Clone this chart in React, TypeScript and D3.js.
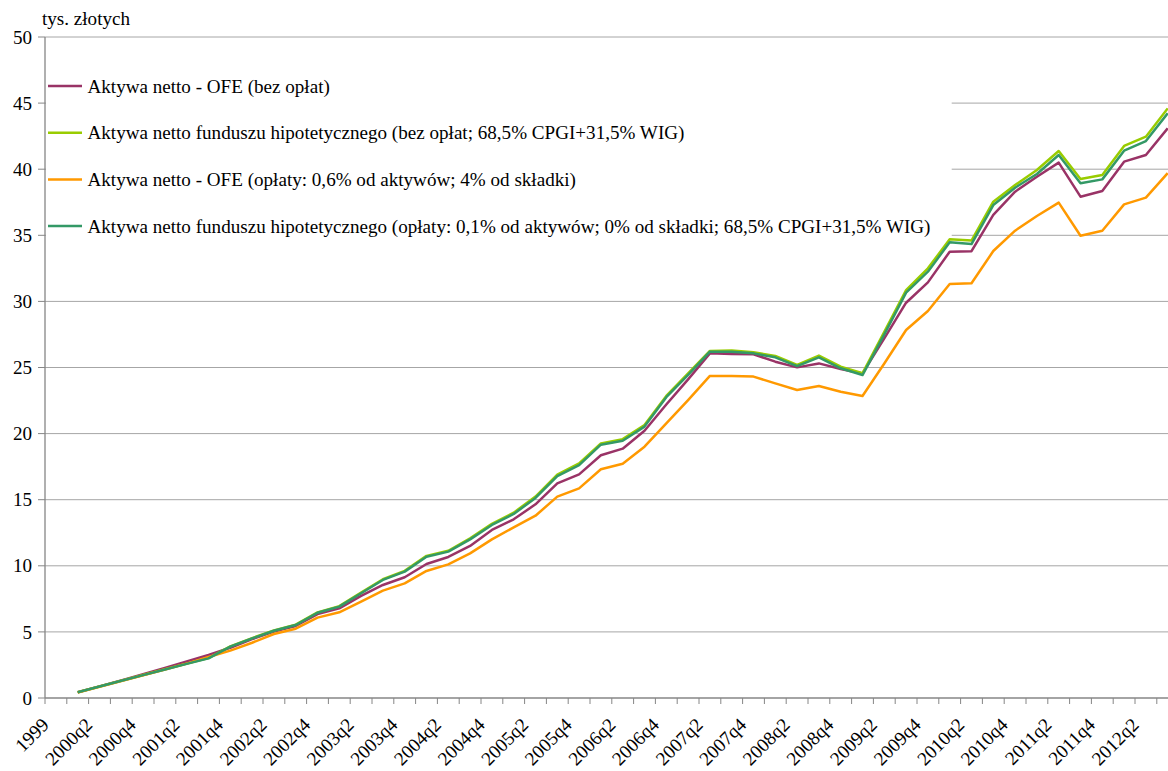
import React from "react";
import * as d3 from "d3";

const categories: string[] = [
  "1999",
  "2000q1", "2000q2", "2000q3", "2000q4",
  "2001q1", "2001q2", "2001q3", "2001q4",
  "2002q1", "2002q2", "2002q3", "2002q4",
  "2003q1", "2003q2", "2003q3", "2003q4",
  "2004q1", "2004q2", "2004q3", "2004q4",
  "2005q1", "2005q2", "2005q3", "2005q4",
  "2006q1", "2006q2", "2006q3", "2006q4",
  "2007q1", "2007q2", "2007q3", "2007q4",
  "2008q1", "2008q2", "2008q3", "2008q4",
  "2009q1", "2009q2", "2009q3", "2009q4",
  "2010q1", "2010q2", "2010q3", "2010q4",
  "2011q1", "2011q2", "2011q3", "2011q4",
  "2012q1", "2012q2", "2012q3",
];

const ofeNoFees: (number | null)[] = [
  null,
  0.43, 0.88, 1.33, 1.8,
  2.28, 2.76, 3.25, 3.8,
  4.45, 5.02, 5.45, 6.35,
  6.78, 7.72, 8.55, 9.13,
  10.14, 10.67, 11.5, 12.71,
  13.52, 14.65, 16.24, 16.92,
  18.36, 18.86, 20.22, 22.2,
  24.1, 26.07, 26.02, 26.0,
  25.44, 25.01, 25.31, 24.89,
  24.55, 27.2, 29.9, 31.44,
  33.76, 33.8, 36.54, 38.3,
  39.43, 40.5, 37.92, 38.35,
  40.57, 41.07, 43.09,
];

const hypoNoFees: (number | null)[] = [
  null,
  0.43, 0.87, 1.3, 1.74,
  2.17, 2.6, 3.02, 3.9,
  4.53, 5.11, 5.55, 6.48,
  6.95, 7.97, 8.98, 9.62,
  10.75, 11.14, 12.08, 13.17,
  14.02, 15.24, 16.9, 17.74,
  19.26, 19.58, 20.65, 22.85,
  24.55, 26.25, 26.28, 26.15,
  25.87, 25.19, 25.9, 25.06,
  24.56, 27.7, 30.86, 32.5,
  34.7, 34.6, 37.54, 38.8,
  39.94, 41.38, 39.26, 39.56,
  41.76, 42.46, 44.6,
];

const ofeWithFees: (number | null)[] = [
  null,
  0.42, 0.85, 1.28, 1.72,
  2.16, 2.6, 3.1, 3.58,
  4.18, 4.84, 5.24, 6.08,
  6.48, 7.29, 8.12, 8.67,
  9.61, 10.11, 10.94, 12.0,
  12.91, 13.79, 15.23, 15.86,
  17.3, 17.72, 19.01, 20.78,
  22.54, 24.36, 24.36, 24.31,
  23.8, 23.3, 23.6, 23.17,
  22.84, 25.3, 27.84, 29.27,
  31.32, 31.37, 33.81, 35.35,
  36.46, 37.47, 34.97, 35.35,
  37.34, 37.85, 39.7,
];

const hypoWithFees: (number | null)[] = [
  null,
  0.43, 0.87, 1.3, 1.73,
  2.16, 2.58, 3.0, 3.88,
  4.51, 5.09, 5.52, 6.45,
  6.91, 7.92, 8.93, 9.56,
  10.69, 11.07, 12.0, 13.09,
  13.92, 15.13, 16.79, 17.62,
  19.16, 19.46, 20.53, 22.75,
  24.45, 26.2, 26.2, 26.07,
  25.77, 25.11, 25.77, 24.94,
  24.43, 27.5, 30.66, 32.25,
  34.47, 34.34, 37.29, 38.6,
  39.64, 41.07, 38.93, 39.23,
  41.4, 42.13, 44.23,
];

const seriesNames: string[] = [
  "Aktywa netto - OFE (bez opłat)",
  "Aktywa netto funduszu hipotetycznego (bez opłat; 68,5% CPGI+31,5% WIG)",
  "Aktywa netto - OFE (opłaty: 0,6% od aktywów; 4% od składki)",
  "Aktywa netto funduszu hipotetycznego (opłaty: 0,1% od aktywów; 0% od składki; 68,5% CPGI+31,5% WIG)",
];
const seriesColors: string[] = ["#993366", "#99cc00", "#ff9900", "#339966"];
const seriesData = [ofeNoFees, hypoNoFees, ofeWithFees, hypoWithFees];

const yTicks: number[] = [0, 5, 10, 15, 20, 25, 30, 35, 40, 45, 50];
const yUnit = "tys. złotych";

const W = 1168;
const H = 771;
const FS = 19.1;
const txt: React.CSSProperties = { fontFamily: '"Liberation Serif"', fontSize: FS };

export default function App() {
  const left = 45;
  const band = 21.8;
  const x = d3
    .scaleBand<string>()
    .domain(categories)
    .range([left, left + band * categories.length])
    .padding(0);
  const bw = x.bandwidth();
  const cx = (c: string) => (x(c) as number) + bw / 2;
  const y = d3.scaleLinear().domain([0, 50]).range([698, 37]);
  const plotRight = left + band * categories.length;

  const line = d3
    .line<number | null>()
    .defined((d) => d !== null)
    .x((_, i) => cx(categories[i]))
    .y((d) => y(d as number));

  const boundaries = d3.range(categories.length + 1).map((i) => left + i * bw);

  const legendTop = 86;
  const legendStep = 46.7;

  return (
    <svg
      width={W}
      height={H}
      style={{ position: "absolute", left: 0, top: 0, overflow: "hidden", background: "#fff" }}
    >
      <rect x={0} y={0} width={W} height={H} fill="#fff" />
      {yTicks.filter((t) => t > 0).map((t) => (
        <line key={t} x1={left} x2={plotRight} y1={y(t)} y2={y(t)} stroke="#a6a6a6" strokeWidth={1} />
      ))}
      <line x1={left} x2={left} y1={y(50)} y2={y(0)} stroke="#868686" strokeWidth={1.3} />
      {yTicks.map((t) => (
        <g key={t}>
          <line x1={38} x2={left} y1={y(t)} y2={y(t)} stroke="#868686" strokeWidth={1} />
          <text x={32} y={y(t)} dy="0.35em" textAnchor="end" style={txt} fill="#000">
            {t}
          </text>
        </g>
      ))}
      <text x={42} y={25} style={txt} fill="#000">
        {yUnit}
      </text>
      <line x1={left} x2={plotRight} y1={y(0)} y2={y(0)} stroke="#868686" strokeWidth={1.3} />
      {boundaries.map((b, i) => (
        <line key={i} x1={b} x2={b} y1={y(0)} y2={y(0) + 6} stroke="#868686" strokeWidth={1} />
      ))}
      {categories.map((c, i) =>
        i % 2 === 0 ? (
          <text
            key={c}
            transform={`translate(${cx(c) - 6},${726}) rotate(-45)`}
            textAnchor="end"
            style={txt}
            fill="#000"
          >
            {c}
          </text>
        ) : null
      )}
      <rect x={left + 1} y={50} width={951.7 - left - 1} height={189} fill="#fff" />
      {seriesNames.map((n, i) => (
        <g key={n}>
          <line
            x1={48}
            x2={82}
            y1={legendTop + i * legendStep}
            y2={legendTop + i * legendStep}
            stroke={seriesColors[i]}
            strokeWidth={2.5}
          />
          <text x={87.5} y={legendTop + i * legendStep} dy="0.35em" style={txt} fill="#000">
            {n}
          </text>
        </g>
      ))}
      {seriesData.map((s, i) => (
        <path
          key={i}
          d={line(s) || ""}
          fill="none"
          stroke={seriesColors[i]}
          strokeWidth={2.5}
          strokeLinejoin="round"
        />
      ))}
    </svg>
  );
}
